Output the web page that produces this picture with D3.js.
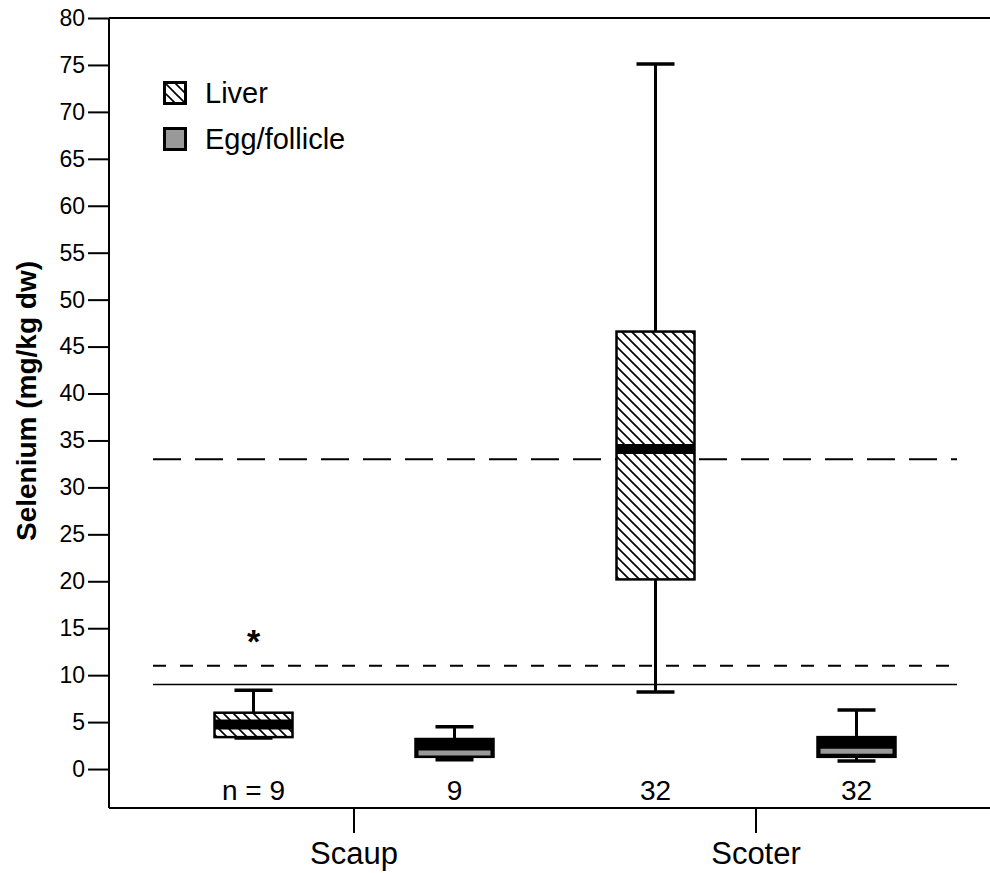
<!DOCTYPE html>
<html>
<head>
<meta charset="utf-8">
<script src="https://cdn.jsdelivr.net/npm/d3@7"></script>
<style>
  html, body { margin: 0; padding: 0; background: #fff; }
  svg { display: block; font-family: "Liberation Sans", Arial, sans-serif; }
</style>
</head>
<body>
<svg id="chart" width="990" height="873"></svg>
<script>
// Species groups on the x axis and tissue types within each group
const categories = ["Scaup", "Scoter"];
const tissues = ["Liver", "Egg/follicle"];

// Box statistics per species: [lower whisker, Q1, median, Q3, upper whisker]
const liverStats = [
  [3.3, 3.4, 4.75, 6.0, 8.4],
  [8.2, 20.2, 34.1, 46.6, 75.1]
];
const eggStats = [
  [1.0, 1.3, 1.7, 3.2, 4.5],
  [0.85, 1.3, 1.9, 3.4, 6.3]
];

// Sample sizes printed below each box (liver, egg) per species
const sampleSizes = [["n = 9", "9"], ["32", "32"]];

// Threshold lines (mg/kg dw)
const referenceLines = [
  { value: 33, dash: "28,14", width: 2 },
  { value: 11, dash: "13,14", width: 2 },
  { value: 9, dash: null, width: 1.5 }
];

// Significance marker above the Scaup liver box
const markerValue = 12.4;

const yTicks = d3.range(0, 81, 5);

(function () {
const svg = d3.select("#chart");
const plotLeft = 109, plotRight = 990, plotTop = 18, plotBottom = 808;

const y = d3.scaleLinear().domain([-4.15, 80]).range([plotBottom, plotTop]);
const x = d3.scaleBand().domain(categories).range([153, 957]).padding(0);
const xInner = d3.scaleBand().domain(tissues).range([0, x.bandwidth()]).padding(0);
const boxW = 78;
const capW = 38;

// Hatch pattern for liver boxes
const defs = svg.append("defs");
const pat = defs.append("pattern")
  .attr("id", "hatch")
  .attr("patternUnits", "userSpaceOnUse")
  .attr("width", 10).attr("height", 10);
pat.append("rect").attr("width", 10).attr("height", 10).attr("fill", "#fff");
pat.append("path")
  .attr("d", "M-2,-2 L12,12 M-2,8 L2,12 M8,-2 L12,2")
  .attr("stroke", "#000").attr("stroke-width", 1.6);

// Frame lines (top and bottom of plot area)
svg.append("line").attr("x1", plotLeft).attr("x2", plotRight).attr("y1", plotTop).attr("y2", plotTop)
  .attr("stroke", "#000").attr("stroke-width", 2);
svg.append("line").attr("x1", plotLeft).attr("x2", plotRight).attr("y1", plotBottom).attr("y2", plotBottom)
  .attr("stroke", "#000").attr("stroke-width", 2);

// Y axis
const yAxis = d3.axisLeft(y).tickValues(yTicks).tickSize(21).tickPadding(3);
const yG = svg.append("g").attr("transform", `translate(${plotLeft},0)`).call(yAxis);
yG.select(".domain").attr("d", `M0,${plotTop}V${plotBottom}`).attr("stroke-width", 2);
yG.selectAll(".tick line").attr("stroke-width", 2);
yG.selectAll(".tick text").attr("font-size", 23).attr("fill", "#000")
  .attr("font-family", "Liberation Sans, Arial, sans-serif");

// X axis
const xAxis = d3.axisBottom(x).tickSize(25).tickPadding(9);
const xG = svg.append("g").attr("transform", `translate(0,${plotBottom})`).call(xAxis);
xG.select(".domain").remove();
xG.selectAll(".tick line").attr("stroke-width", 2);
xG.selectAll(".tick text").attr("font-size", 31).attr("fill", "#000")
  .attr("font-family", "Liberation Sans, Arial, sans-serif");

// Y axis title
svg.append("text")
  .attr("transform", "translate(36,401) rotate(-90)")
  .attr("text-anchor", "middle")
  .attr("font-size", 28).attr("font-weight", "bold")
  .text("Selenium (mg/kg dw)");

// Reference lines
const [rx0, rx1] = x.range();
referenceLines.forEach(r => {
  svg.append("line")
    .attr("x1", rx0).attr("x2", rx1)
    .attr("y1", y(r.value)).attr("y2", y(r.value))
    .attr("stroke", "#000").attr("stroke-width", r.width)
    .attr("stroke-dasharray", r.dash);
});

// Box plots
function drawBox(cx, s, kind) {
  const [lo, q1, med, q3, hi] = s;
  const g = svg.append("g");
  g.append("line").attr("x1", cx).attr("x2", cx).attr("y1", y(q3)).attr("y2", y(hi))
    .attr("stroke", "#000").attr("stroke-width", 3);
  g.append("line").attr("x1", cx).attr("x2", cx).attr("y1", y(q1)).attr("y2", y(lo))
    .attr("stroke", "#000").attr("stroke-width", 3);
  [lo, hi].forEach(v => {
    g.append("line").attr("x1", cx - capW / 2).attr("x2", cx + capW / 2)
      .attr("y1", y(v)).attr("y2", y(v))
      .attr("stroke", "#000").attr("stroke-width", 3.5);
  });
  g.append("rect")
    .attr("x", cx - boxW / 2).attr("width", boxW)
    .attr("y", y(q3)).attr("height", y(q1) - y(q3))
    .attr("fill", kind === "Liver" ? "url(#hatch)" : "#000")
    .attr("stroke", "#000").attr("stroke-width", 2.5);
  if (kind === "Liver") {
    g.append("line").attr("x1", cx - boxW / 2).attr("x2", cx + boxW / 2)
      .attr("y1", y(med)).attr("y2", y(med))
      .attr("stroke", "#000").attr("stroke-width", 10);
  } else {
    g.append("line").attr("x1", cx - boxW / 2 + 3).attr("x2", cx + boxW / 2 - 3)
      .attr("y1", y(med)).attr("y2", y(med))
      .attr("stroke", "#999").attr("stroke-width", 5);
  }
}

categories.forEach((c, i) => {
  const cxL = x(c) + xInner("Liver") + xInner.bandwidth() / 2;
  const cxE = x(c) + xInner("Egg/follicle") + xInner.bandwidth() / 2;
  drawBox(cxL, liverStats[i], "Liver");
  drawBox(cxE, eggStats[i], "Egg/follicle");
  [cxL, cxE].forEach((cx, j) => {
    svg.append("text").attr("x", cx).attr("y", 800)
      .attr("text-anchor", "middle").attr("font-size", 28)
      .text(sampleSizes[i][j]);
  });
});

// Significance marker
const scaupLiverX = x("Scaup") + xInner("Liver") + xInner.bandwidth() / 2;
svg.append("text").attr("x", scaupLiverX).attr("y", y(markerValue))
  .attr("text-anchor", "middle").attr("font-size", 34).attr("font-weight", "bold")
  .text("*");

// Legend
const legend = svg.append("g").attr("transform", "translate(163,81)");
tissues.forEach((t, i) => {
  const gy = i * 46;
  legend.append("rect").attr("x", 1.5).attr("y", gy + 1.5).attr("width", 21).attr("height", 21)
    .attr("fill", t === "Liver" ? "url(#hatch)" : "#999")
    .attr("stroke", "#000").attr("stroke-width", 3);
  legend.append("text").attr("x", 42).attr("y", gy + 22)
    .attr("font-size", 29).text(t);
});
})();
</script>
</body>
</html>
